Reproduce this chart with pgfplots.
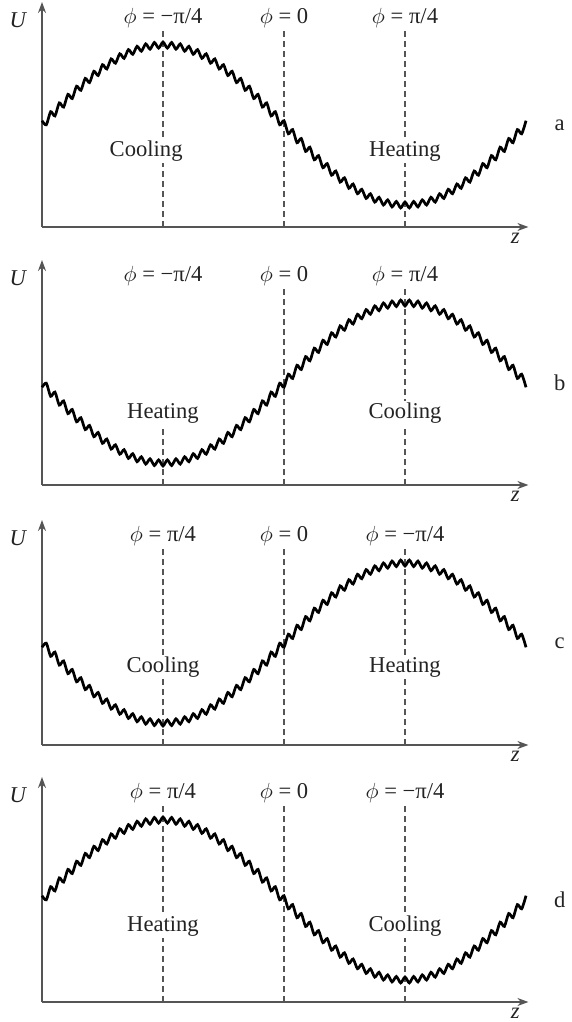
\documentclass[border=0pt]{standalone}
\usepackage{pgfplots}
\pgfplotsset{compat=1.18}
\usepackage{pgfplotstable}
\usepackage{fontspec}
\setmainfont{Liberation Serif}
\usetikzlibrary{arrows.meta}

% curve a / d : x in steps of 1/28 of a quarter period, y in px above the z axis
\pgfplotstableread[row sep=\\]{
k y\\
0 106.3\\ 1 102.2\\ 2 115.3\\ 3 111.1\\ 4 124.1\\ 5 119.9\\ 6 132.6\\ 7 128.5\\ 8 140.8\\ 9 136.7\\
10 148.6\\ 11 144.4\\ 12 155.7\\ 13 151.5\\ 14 162.3\\ 15 158.0\\ 16 168.1\\ 17 163.8\\ 18 173.2\\ 19 168.7\\
20 177.4\\ 21 172.7\\ 22 180.7\\ 23 175.8\\ 24 183.1\\ 25 177.8\\ 26 184.5\\ 27 178.9\\ 28 185.0\\
29 178.9\\ 30 184.5\\ 31 177.8\\ 32 183.1\\ 33 175.8\\ 34 180.7\\ 35 172.7\\ 36 177.4\\ 37 168.7\\ 38 173.2\\
39 163.8\\ 40 168.1\\ 41 158.0\\ 42 162.3\\ 43 151.5\\ 44 155.7\\ 45 144.4\\ 46 148.6\\ 47 136.7\\ 48 140.8\\
49 128.5\\ 50 132.6\\ 51 119.9\\ 52 124.1\\ 53 111.1\\ 54 115.3\\ 55 102.2\\ 56 106.3\\
57 93.2\\ 58 97.4\\ 59 84.3\\ 60 88.5\\ 61 75.6\\ 62 79.8\\ 63 67.2\\ 64 71.4\\ 65 59.3\\ 66 63.4\\
67 51.8\\ 68 56.0\\ 69 44.9\\ 70 49.2\\ 71 38.7\\ 72 43.0\\ 73 33.3\\ 74 37.7\\ 75 28.6\\ 76 33.2\\
77 24.9\\ 78 29.7\\ 79 22.0\\ 80 27.1\\ 81 20.1\\ 82 25.5\\ 83 19.1\\ 84 25.0\\
85 19.1\\ 86 25.5\\ 87 20.1\\ 88 27.1\\ 89 22.0\\ 90 29.7\\ 91 24.9\\ 92 33.2\\ 93 28.6\\ 94 37.7\\
95 33.3\\ 96 43.0\\ 97 38.7\\ 98 49.2\\ 99 44.9\\ 100 56.0\\ 101 51.8\\ 102 63.4\\ 103 59.3\\ 104 71.4\\
105 67.2\\ 106 79.8\\ 107 75.6\\ 108 88.5\\ 109 84.3\\ 110 97.4\\ 111 93.2\\ 112 106.3\\
}\curveA

% curve b / c
\pgfplotstableread[row sep=\\]{
k y\\
0 97.7\\ 1 101.8\\ 2 88.7\\ 3 92.9\\ 4 79.9\\ 5 84.1\\ 6 71.4\\ 7 75.5\\ 8 63.2\\ 9 67.3\\
10 55.4\\ 11 59.6\\ 12 48.3\\ 13 52.5\\ 14 41.7\\ 15 46.0\\ 16 35.9\\ 17 40.2\\ 18 30.8\\ 19 35.3\\
20 26.6\\ 21 31.3\\ 22 23.3\\ 23 28.2\\ 24 20.9\\ 25 26.2\\ 26 19.5\\ 27 25.1\\ 28 19.0\\
29 25.1\\ 30 19.5\\ 31 26.2\\ 32 20.9\\ 33 28.2\\ 34 23.3\\ 35 31.3\\ 36 26.6\\ 37 35.3\\ 38 30.8\\
39 40.2\\ 40 35.9\\ 41 46.0\\ 42 41.7\\ 43 52.5\\ 44 48.3\\ 45 59.6\\ 46 55.4\\ 47 67.3\\ 48 63.2\\
49 75.5\\ 50 71.4\\ 51 84.1\\ 52 79.9\\ 53 92.9\\ 54 88.7\\ 55 101.8\\ 56 97.7\\
57 110.8\\ 58 106.6\\ 59 119.7\\ 60 115.5\\ 61 128.4\\ 62 124.2\\ 63 136.8\\ 64 132.6\\ 65 144.7\\ 66 140.6\\
67 152.2\\ 68 148.0\\ 69 159.1\\ 70 154.8\\ 71 165.3\\ 72 161.0\\ 73 170.7\\ 74 166.3\\ 75 175.4\\ 76 170.8\\
77 179.1\\ 78 174.3\\ 79 182.0\\ 80 176.9\\ 81 183.9\\ 82 178.5\\ 83 184.9\\ 84 179.0\\
85 184.9\\ 86 178.5\\ 87 183.9\\ 88 176.9\\ 89 182.0\\ 90 174.3\\ 91 179.1\\ 92 170.8\\ 93 175.4\\ 94 166.3\\
95 170.7\\ 96 161.0\\ 97 165.3\\ 98 154.8\\ 99 159.1\\ 100 148.0\\ 101 152.2\\ 102 140.6\\ 103 144.7\\ 104 132.6\\
105 136.8\\ 106 124.2\\ 107 128.4\\ 108 115.5\\ 109 119.7\\ 110 106.6\\ 111 110.8\\ 112 97.7\\
}\curveB

\definecolor{axgray}{RGB}{85,85,85}
\definecolor{txt}{RGB}{35,35,35}

\pgfplotsset{
  panel/.style={
    x=2.16071pt, y=0.5pt,
    xmin=0, xmax=112.56, ymin=0, ymax=225,
    axis lines=left,
    xtick=\empty, ytick=\empty,
    clip=false,
    axis line style={draw=axgray, line width=0.8pt, -{Stealth[length=5.5pt,width=4pt]}},
    every outer x axis line/.append style={-{Stealth[length=5.5pt,width=4pt]}},
    every outer y axis line/.append style={-{Stealth[length=5.5pt,width=4pt]}},
  },
  guide/.style={draw=axgray, line width=0.6pt, dash pattern=on 3pt off 2pt},
  wig/.style={black, line width=1.35pt, smooth, tension=0.45},
}
\newcommand{\lab}{\fontsize{11.3}{13}\selectfont\color{txt}}

\begin{document}
\begin{tikzpicture}
\useasboundingbox (-21pt,-397.5pt) rectangle (265pt,113.5pt);

% panel a
\begin{axis}[panel, at={(0pt,0pt)}, anchor=origin]
\addplot[guide] coordinates {(28,0) (28,199)};
\addplot[guide] coordinates {(56,0) (56,199)};
\addplot[guide] coordinates {(84,0) (84,199)};
\node[font=\lab] at (axis cs:28,209) {$\phi$ = −π/4};
\node[font=\lab] at (axis cs:56,209) {$\phi$ = 0};
\node[font=\lab] at (axis cs:84,209) {$\phi$ = π/4};
\node[font=\lab, fill=white, inner sep=1pt] at (axis cs:24.1,76) {Cooling};
\node[font=\lab, fill=white, inner sep=1pt] at (axis cs:84,76) {Heating};
\node[font=\lab] at (axis cs:119.8,102) {a};
\node[font=\lab\itshape] at (axis cs:109.5,-11) {z};
\node[font=\lab\itshape] at (axis cs:-5.6,207) {U};
\addplot[wig] table {\curveA};
\end{axis}

% panel b
\begin{axis}[panel, at={(0pt,-129pt)}, anchor=origin]
\addplot[guide] coordinates {(28,0) (28,63)};
\addplot[guide] coordinates {(56,0) (56,199)};
\addplot[guide] coordinates {(84,0) (84,199)};
\node[font=\lab] at (axis cs:28,209) {$\phi$ = −π/4};
\node[font=\lab] at (axis cs:56,209) {$\phi$ = 0};
\node[font=\lab] at (axis cs:84,209) {$\phi$ = π/4};
\node[font=\lab, fill=white, inner sep=1pt] at (axis cs:28,72) {Heating};
\node[font=\lab, fill=white, inner sep=1pt] at (axis cs:84,72) {Cooling};
\node[font=\lab] at (axis cs:119.8,102) {b};
\node[font=\lab\itshape] at (axis cs:109.5,-11) {z};
\node[font=\lab\itshape] at (axis cs:-5.6,207) {U};
\addplot[wig] table {\curveB};
\end{axis}

% panel c
\begin{axis}[panel, at={(0pt,-259pt)}, anchor=origin]
\addplot[guide] coordinates {(28,0) (28,199)};
\addplot[guide] coordinates {(56,0) (56,199)};
\addplot[guide] coordinates {(84,0) (84,199)};
\node[font=\lab] at (axis cs:28,209) {$\phi$ = π/4};
\node[font=\lab] at (axis cs:56,209) {$\phi$ = 0};
\node[font=\lab] at (axis cs:84,209) {$\phi$ = −π/4};
\node[font=\lab, fill=white, inner sep=1pt] at (axis cs:28,78) {Cooling};
\node[font=\lab, fill=white, inner sep=1pt] at (axis cs:84,78) {Heating};
\node[font=\lab] at (axis cs:119.8,102) {c};
\node[font=\lab\itshape] at (axis cs:109.5,-11) {z};
\node[font=\lab\itshape] at (axis cs:-5.6,207) {U};
\addplot[wig] table {\curveB};
\end{axis}

% panel d
\begin{axis}[panel, at={(0pt,-387.5pt)}, anchor=origin]
\addplot[guide] coordinates {(28,0) (28,199)};
\addplot[guide] coordinates {(56,0) (56,199)};
\addplot[guide] coordinates {(84,0) (84,199)};
\node[font=\lab] at (axis cs:28,209) {$\phi$ = π/4};
\node[font=\lab] at (axis cs:56,209) {$\phi$ = 0};
\node[font=\lab] at (axis cs:84,209) {$\phi$ = −π/4};
\node[font=\lab, fill=white, inner sep=1pt] at (axis cs:28,76) {Heating};
\node[font=\lab, fill=white, inner sep=1pt] at (axis cs:84,76) {Cooling};
\node[font=\lab] at (axis cs:119.8,102) {d};
\node[font=\lab\itshape] at (axis cs:109.5,-11) {z};
\node[font=\lab\itshape] at (axis cs:-5.6,207) {U};
\addplot[wig] table {\curveA};
\end{axis}
\end{tikzpicture}
\end{document}
